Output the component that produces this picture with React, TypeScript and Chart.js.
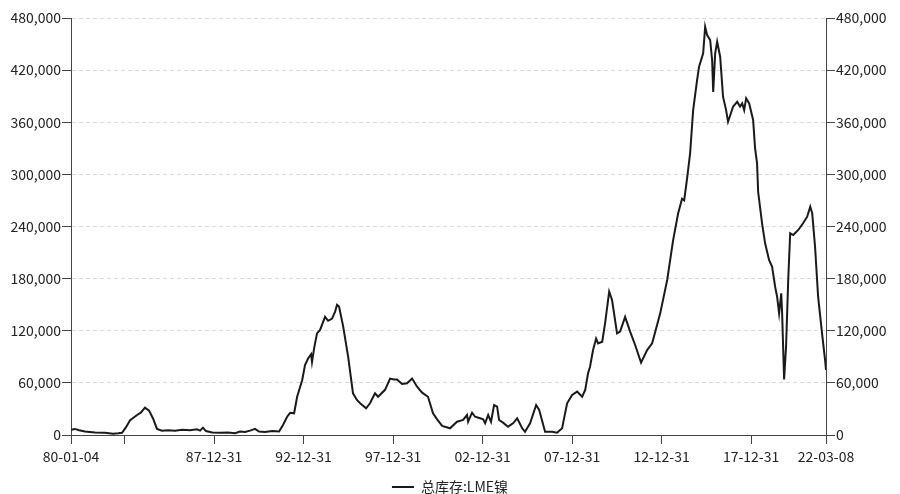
import React, { useEffect, useRef } from "react";
import { Chart, registerables } from "chart.js";

Chart.register(...registerables);

const seriesName = "总库存:LME镍";

// decimal years
const dates: number[] = [
  1980.01, 1980.23, 1980.46, 1980.79, 1981.35, 1981.91, 1982.36, 1982.64, 1982.86, 1983.08,
  1983.31, 1983.7, 1983.92, 1984.14, 1984.37, 1984.59, 1984.81, 1985.09, 1985.43, 1985.82,
  1986.21, 1986.66, 1987.05, 1987.22, 1987.38, 1987.55, 1987.89, 1988.33, 1988.78, 1989.17,
  1989.45, 1989.73, 1990.01, 1990.29, 1990.51, 1990.85, 1991.24, 1991.63, 1991.85, 1992.08,
  1992.25, 1992.47, 1992.64, 1992.92, 1993.08, 1993.25, 1993.42, 1993.47, 1993.59, 1993.75,
  1993.92, 1994.2, 1994.37, 1994.59, 1994.76, 1994.87, 1994.98, 1995.21, 1995.49, 1995.76,
  1995.99, 1996.16, 1996.49, 1996.71, 1996.99, 1997.16, 1997.55, 1997.83, 1998.05, 1998.22,
  1998.5, 1998.78, 1999.06, 1999.34, 1999.62, 1999.95, 2000.23, 2000.46, 2000.74, 2001.18,
  2001.57, 2001.91, 2002.13, 2002.19, 2002.41, 2002.58, 2002.86, 2003.03, 2003.14, 2003.31,
  2003.47, 2003.64, 2003.81, 2003.92, 2004.14, 2004.42, 2004.7, 2004.93, 2005.21, 2005.37,
  2005.65, 2005.99, 2006.16, 2006.49, 2006.88, 2007.16, 2007.44, 2007.72, 2008.0, 2008.28,
  2008.56, 2008.73, 2008.89, 2009.0, 2009.17, 2009.34, 2009.45, 2009.68, 2009.84, 2010.07,
  2010.23, 2010.51, 2010.68, 2010.96, 2011.24, 2011.52, 2011.85, 2012.19, 2012.47, 2012.92,
  2013.31, 2013.64, 2013.92, 2014.14, 2014.26, 2014.42, 2014.59, 2014.76, 2014.98, 2015.09,
  2015.32, 2015.43, 2015.54, 2015.71, 2015.82, 2015.88, 2015.99, 2016.1, 2016.27, 2016.43,
  2016.6, 2016.71, 2016.99, 2017.22, 2017.38, 2017.5, 2017.61, 2017.72, 2017.89, 2018.11,
  2018.22, 2018.33, 2018.39, 2018.61, 2018.78, 2019.0, 2019.17, 2019.34, 2019.45, 2019.56,
  2019.68, 2019.73, 2019.84, 2019.95, 2020.07, 2020.18, 2020.35, 2020.63, 2020.9, 2021.13,
  2021.3, 2021.41, 2021.57, 2021.74, 2021.96, 2022.13, 2022.18,
];

const values: number[] = [
  6000, 7000, 5500, 4000, 3000, 2500, 1500, 2000, 2500, 9000,
  17000, 23000, 26000, 31500, 28000, 19000, 7000, 5000, 5500, 5000,
  6000, 5500, 6500, 5000, 8500, 4500, 3000, 2500, 3000, 2000,
  4000, 3500, 5000, 7000, 4000, 3500, 4500, 4000, 11500, 21000,
  25500, 25000, 44000, 63000, 80500, 88000, 93000, 84000, 100000, 117000,
  121000, 136000, 131500, 134000, 142000, 150000, 148000, 125000, 90000, 48000,
  40000, 36500, 30700, 36500, 48000, 44000, 52000, 65000, 64000, 64000,
  58700, 59500, 65000, 55600, 48700, 44000, 25000, 18000, 10400, 7700,
  15300, 17300, 23000, 15300, 25700, 21000, 19200, 18000, 13500, 23000,
  15300, 34500, 32600, 17300, 14200, 9600, 13500, 19200, 7700, 3800,
  13500, 34500, 28800, 3800, 3800, 2600, 7700, 36500, 46000, 49900,
  44000, 51800, 71000, 78600, 97800, 111000, 105500, 107400, 128500, 165000,
  155400, 117000, 119000, 136000, 119000, 103600, 83300, 97800, 105500, 140000,
  178400, 224000, 255000, 272000, 270000, 295000, 324200, 374000, 408600, 424000,
  439300, 470000, 460400, 454700, 431600, 395000, 439300, 452700, 435400, 389400,
  374000, 360600, 377900, 383600, 378000, 381700, 374000, 387600, 381700, 362600,
  330000, 312700, 280000, 243700, 220600, 201400, 193700, 170700, 159200, 140100,
  163100, 140100, 64000, 101600, 178400, 232200, 230200, 236000, 243700, 251300,
  262800, 255200, 216700, 159200, 117000, 86300, 75000,
];

const xTickDates: string[] = [
  "1980-01-04", "1982-12-31", "1987-12-31", "1992-12-31", "1997-12-31",
  "2002-12-31", "2007-12-31", "2012-12-31", "2017-12-31", "2022-03-08",
];
const xTickLabels: string[] = [
  "80-01-04", "", "87-12-31", "92-12-31", "97-12-31",
  "02-12-31", "07-12-31", "12-12-31", "17-12-31", "22-03-08",
];
const yTickValues: number[] = [0, 60000, 120000, 180000, 240000, 300000, 360000, 420000, 480000];

function toYear(s: string): number {
  const [y, m, d] = s.split("-").map(Number);
  const start = Date.UTC(y, 0, 1);
  const end = Date.UTC(y + 1, 0, 1);
  return y + (Date.UTC(y, m - 1, d) - start) / (end - start);
}

const FONT = "'Noto Sans CJK SC', 'Noto Sans', sans-serif";
const AXIS_COLOR = "#444444";
const TEXT_COLOR = "#222222";

export default function App() {
  const ref = useRef<HTMLCanvasElement>(null);

  useEffect(() => {
    document.body.style.margin = "0";
    document.body.style.background = "#ffffff";
    const xMin = toYear(xTickDates[0]);
    const xMax = toYear(xTickDates[xTickDates.length - 1]);

    const yAxisCommon = (position: "left" | "right", onArea: boolean, fitWidth: number) => ({
      type: "linear" as const,
      position,
      min: 0,
      max: 480000,
      afterBuildTicks: (axis: any) => {
        axis.ticks = yTickValues.map((v) => ({ value: v }));
      },
      afterFit: (axis: any) => {
        axis.width = fitWidth;
      },
      ticks: {
        color: TEXT_COLOR,
        font: { family: FONT, size: 14 },
        padding: 1,
        callback: (v: any) => Number(v).toLocaleString("en-US"),
      },
      grid: {
        display: true,
        drawOnChartArea: onArea,
        drawTicks: true,
        tickLength: 9,
        color: "#d9d9d9",
        tickColor: AXIS_COLOR,
        lineWidth: 1,
      },
      border: {
        display: true,
        color: AXIS_COLOR,
        width: 1,
        dash: [4, 3],
      },
    });

    const chart = new Chart(ref.current as HTMLCanvasElement, {
      type: "line",
      data: {
        datasets: [
          {
            label: seriesName,
            data: dates.map((d, i) => ({ x: d, y: values[i] })),
            borderColor: "#1a1a1a",
            backgroundColor: "#1a1a1a",
            borderWidth: 2,
            pointRadius: 0,
            tension: 0,
            yAxisID: "y",
          },
        ],
      },
      options: {
        responsive: false,
        animation: false,
        devicePixelRatio: 1,
        parsing: false as any,
        layout: { padding: { top: 18, left: 0, right: 0, bottom: -10 } },
        plugins: {
          legend: {
            display: true,
            position: "bottom",
            labels: {
              usePointStyle: true,
              pointStyle: "line",
              pointStyleWidth: 22,
              color: TEXT_COLOR,
              font: { family: FONT, size: 14 },
              padding: 9,
            },
          },
          tooltip: { enabled: false },
        },
        scales: {
          x: {
            type: "linear",
            min: xMin,
            max: xMax,
            afterBuildTicks: (axis: any) => {
              axis.ticks = xTickDates.map((d) => ({ value: toYear(d) }));
            },
            afterFit: (axis: any) => {
              axis.height = 36;
            },
            ticks: {
              autoSkip: false,
              maxRotation: 0,
              color: TEXT_COLOR,
              font: { family: FONT, size: 14 },
              padding: 4,
              callback: (_v: any, i: number) => xTickLabels[i],
            },
            grid: {
              display: true,
              drawOnChartArea: false,
              drawTicks: true,
              tickLength: 9,
              tickColor: AXIS_COLOR,
            },
            border: { display: true, color: AXIS_COLOR, width: 1 },
          },
          y: yAxisCommon("left", true, 71) as any,
          y2: yAxisCommon("right", false, 74) as any,
        },
      },
    });
    return () => chart.destroy();
  }, []);

  return (
    <div style={{ width: 900, height: 494, position: "relative", background: "#fff" }}>
      <canvas ref={ref} width={900} height={494} style={{ display: "block" }} />
    </div>
  );
}
